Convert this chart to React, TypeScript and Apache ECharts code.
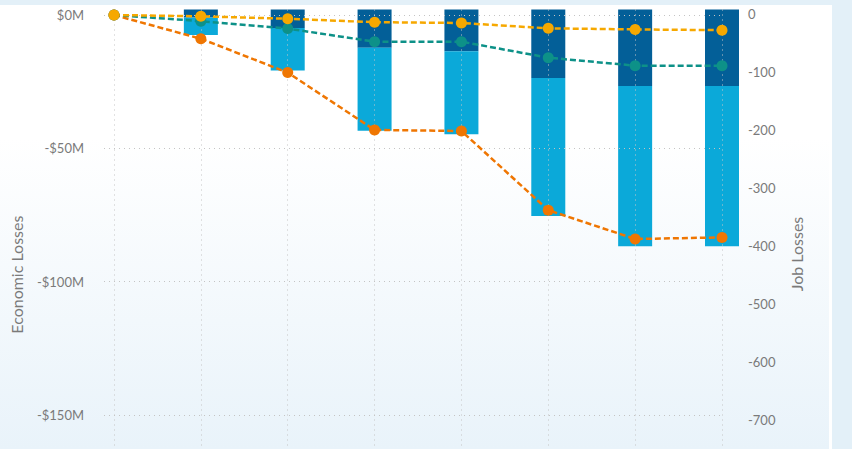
import React, { useEffect, useRef } from "react";
import * as echarts from "echarts";

const categories = ["T0", "T1", "T2", "T3", "T4", "T5", "T6", "T7"];
// Economic losses ($M), left axis
const orangeLoss = [0, -8.9, -21.6, -43.1, -43.5, -73.2, -84.0, -83.4];
const tealLoss = [0, -2.3, -5.1, -10.0, -10.0, -16.0, -19.0, -19.0];
const yellowLoss = [0, -0.5, -1.4, -2.7, -3.0, -5.0, -5.4, -5.7];
// Job losses (bars)
const directJobs = [null, -14, -32, -66, -72, -118, -132, -132];
const indirectJobs = [null, -30, -73, -143, -143, -238, -276, -276];
// Axis ticks
const econTicks = { min: -200, max: 0, interval: 50 };
const jobTicks = { min: -800, max: 0, interval: 100 };
const econLabelLimit = -150;
const jobLabelLimit = -700;

const FONT = "Lato";
const GREY = "#7a7a7a";
const DOT = { type: [1, 4], color: "#c4c4c4", width: 1 };

export default function App() {
  const ref = useRef<HTMLDivElement>(null);
  useEffect(() => {
    if (!ref.current) return;
    const chart = echarts.init(ref.current, undefined, { renderer: "svg" });
    const econH = 533.33;
    const jobH = 464;
    const hiddenX = (gridIndex: number) => ({
      type: "category" as const,
      gridIndex,
      data: categories,
      boundaryGap: false,
      show: false,
    });
    chart.setOption({
      animation: false,
      backgroundColor: "transparent",
      grid: [
        { left: 104, right: 130, top: 15, height: econH },
        { left: 114, right: 130, top: 15, height: econH },
        { left: 114, right: 130, top: 14, height: jobH },
        { left: 114, right: 130, top: 9.5, height: jobH },
      ],
      xAxis: [
        hiddenX(0),
        hiddenX(1),
        hiddenX(2),
        {
          type: "category",
          gridIndex: 3,
          data: categories,
          boundaryGap: false,
          z: 3,
          axisLine: { show: false },
          axisTick: { show: false },
          axisLabel: { show: false },
          splitLine: { show: true, interval: 0, lineStyle: DOT },
        },
      ],
      yAxis: [
        {
          type: "value",
          gridIndex: 0,
          position: "left",
          ...econTicks,
          z: 3,
          name: "Economic Losses",
          nameLocation: "middle",
          nameGap: 80,
          nameTextStyle: { fontFamily: FONT, fontSize: 16, color: GREY, padding: [0, 0, 0, 14] },
          axisLine: { show: false },
          axisTick: { show: false },
          axisLabel: {
            fontFamily: FONT,
            fontSize: 13,
            color: GREY,
            margin: 20,
            formatter: (v: number) =>
              v < econLabelLimit ? "" : v === 0 ? "$0M" : "-$" + Math.abs(v) + "M",
          },
          splitLine: { show: true, lineStyle: DOT },
        },
        { type: "value", gridIndex: 1, ...econTicks, show: false, splitLine: { show: false } },
        {
          type: "value",
          gridIndex: 2,
          position: "right",
          ...jobTicks,
          name: "Job Losses",
          nameLocation: "middle",
          nameGap: 66,
          nameTextStyle: { fontFamily: FONT, fontSize: 16, color: GREY, padding: [0, 16, 0, 0] },
          axisLine: { show: false },
          axisTick: { show: false },
          axisLabel: {
            fontFamily: FONT,
            fontSize: 13,
            color: GREY,
            margin: 26,
            formatter: (v: number) => (v < jobLabelLimit ? "" : String(v)),
          },
          splitLine: { show: false },
        },
        { type: "value", gridIndex: 3, ...jobTicks, show: false, splitLine: { show: false } },
      ],
      series: [
        {
          name: "Direct job losses",
          type: "bar",
          xAxisIndex: 3,
          yAxisIndex: 3,
          stack: "jobs",
          barWidth: 34,
          z: 2,
          itemStyle: { color: "#035f98" },
          data: directJobs,
        },
        {
          name: "Indirect job losses",
          type: "bar",
          xAxisIndex: 3,
          yAxisIndex: 3,
          stack: "jobs",
          barWidth: 34,
          z: 2,
          itemStyle: { color: "#0ba9d9" },
          data: indirectJobs,
        },
        ...[
          { name: "Total", data: orangeLoss, color: "#ef7602" },
          { name: "Indirect", data: tealLoss, color: "#0d9188" },
          { name: "Direct", data: yellowLoss, color: "#f6a800" },
        ].map((s) => ({
          name: s.name,
          type: "line",
          xAxisIndex: 1,
          yAxisIndex: 1,
          z: 5,
          data: s.data,
          symbol: "circle",
          symbolSize: 11,
          itemStyle: { color: s.color },
          lineStyle: { color: s.color, width: 2.5, type: [6, 3] },
        })),
      ],
    });
    return () => chart.dispose();
  }, []);

  return (
    <div
      style={{
        position: "fixed",
        left: 0,
        top: 0,
        width: 852,
        height: 449,
        overflow: "hidden",
        background: "#e3f0f8",
      }}
    >
      <div
        style={{
          position: "absolute",
          left: 0,
          top: 5,
          width: 832,
          height: 444,
          background: "#ffffff",
        }}
      />
      <div
        style={{
          position: "absolute",
          left: 0,
          top: 5,
          width: 829,
          height: 444,
          background: "linear-gradient(to bottom, #ffffff 0%, #ffffff 30%, #e9f3fa 100%)",
        }}
      />
      <div ref={ref} style={{ position: "absolute", left: 0, top: 0, width: 852, height: 600 }} />
    </div>
  );
}
